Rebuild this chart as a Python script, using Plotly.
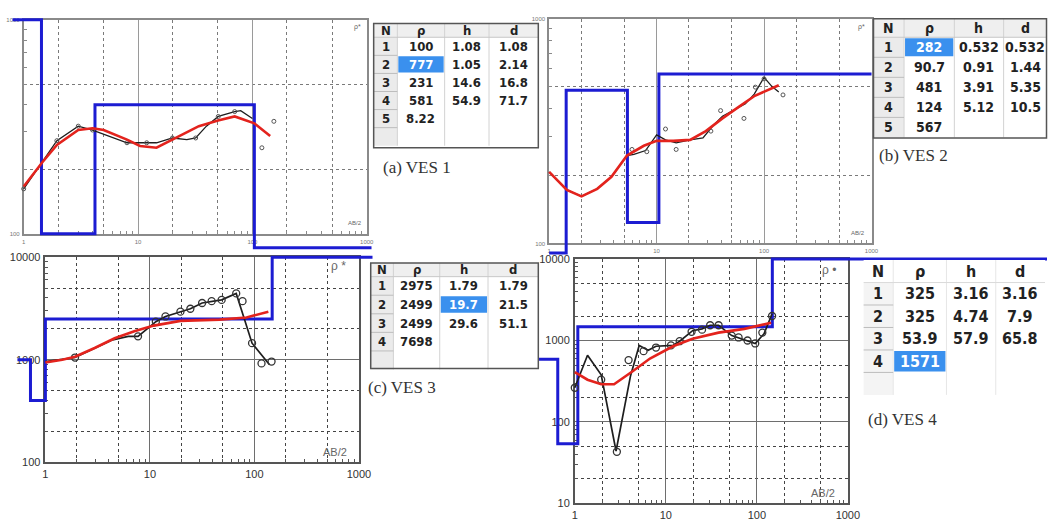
import plotly.graph_objects as go

W, H = 1059, 525

# ---------------- data ----------------
# VES 1
ves1_line_ab = [1, 1.95, 3.0, 4.0, 8.0, 11.9, 14.5, 20, 26.7, 31.9, 39.6, 50.3, 70, 79, 100]
ves1_line_rho = [162, 272, 318, 305, 266, 266, 266, 280, 275, 280, 318, 353, 372, 376, 345]
ves1_pts_ab = [1, 1.95, 3.0, 4.0, 8.0, 11.9, 20, 31.9, 50.3, 70, 121, 154]
ves1_pts_rho = [162, 272, 318, 305, 266, 266, 280, 280, 353, 372, 252, 335]
ves1_calc_ab = [1, 1.45, 1.95, 3.0, 4.0, 5.0, 8, 10.4, 14.5, 20, 34, 50, 70, 104, 143]
ves1_calc_rho = [166, 215, 260, 305, 311, 305, 275, 257, 252, 275, 318, 338, 353, 328, 286]
ves1_model_ab = [0.8, 1.43, 4.2, 104, 1100]
ves1_model_rho = [1000, 100, 400, 86, 86]

# VES 2
ves2_line_ab = [1, 1.46, 2.0, 2.8, 3.8, 5.3, 6.15, 7.9, 10, 12.1, 15.2, 20.5, 27, 33.3, 41, 67, 81, 100, 118, 137]
ves2_line_rho = [208, 173, 162, 175, 198, 246, 249, 259, 304, 289, 280, 289, 295, 333, 368, 418, 462, 548, 500, 472]
ves2_pts_ab = [5.9, 8.1, 12.1, 15.2, 32, 39.4, 65, 83, 100, 150]
ves2_pts_rho = [262, 256, 323, 262, 316, 390, 360, 496, 540, 458]
ves2_calc_ab = [1, 1.46, 2.0, 2.8, 3.8, 5.3, 7.6, 10, 14.3, 20.5, 28.7, 41, 58.6, 82, 137]
ves2_calc_rho = [208, 173, 162, 175, 198, 246, 272, 286, 286, 289, 316, 360, 406, 454, 506]
ves2_model_ab = [1.0, 1.44, 5.35, 10.5, 1000]
ves2_model_rho = [90.7, 481, 124, 567, 567]

# VES 3
ves3_line_ab = [1, 1.92, 4.3, 6.2, 7.7, 11.4, 14.1, 19.6, 24.4, 31.6, 39, 48.6, 67, 95, 139]
ves3_line_rho = [960, 1050, 1550, 1690, 1690, 2350, 2640, 2940, 3140, 3570, 3720, 3830, 4430, 1450, 900]
ves3_pts_ab = [1.92, 7.7, 11.4, 14.1, 19.6, 24.4, 31.6, 39, 48.6, 67, 77, 95, 117, 146]
ves3_pts_rho = [1050, 1690, 2350, 2640, 2940, 3140, 3570, 3720, 3830, 4430, 3720, 1450, 920, 960]
ves3_calc_ab = [1, 1.45, 1.92, 2.96, 4.6, 7.1, 10.9, 19.6, 46.5, 84, 136]
ves3_calc_rho = [940, 1000, 1070, 1300, 1620, 1890, 2150, 2390, 2460, 2580, 2940]
ves3_model_ab = [0.54, 0.72, 1.0, 148, 1350]
ves3_model_rho = [1000, 400, 2500, 10000, 10000]

# VES 4
ves4_line_ab = [1, 1.38, 1.95, 2.84, 4.1, 5.1, 6.4, 7.8, 12, 14.2, 19.7, 25, 30.7, 38, 53, 73, 96, 120, 147]
ves4_line_rho = [263, 660, 380, 44, 370, 870, 760, 850, 870, 980, 1320, 1390, 1540, 1540, 1150, 1030, 920, 1210, 2130]
ves4_pts_ab = [1, 1.95, 2.9, 3.9, 5.7, 7.8, 11.4, 14.2, 19.2, 25, 30.7, 38, 53, 63, 79, 96, 115, 147]
ves4_pts_rho = [263, 330, 43, 575, 740, 820, 870, 980, 1280, 1360, 1540, 1540, 1150, 1090, 1000, 920, 1250, 2000]
ves4_calc_ab = [1.0, 1.38, 1.95, 2.7, 4.4, 6.7, 12, 19.7, 38, 73, 144]
ves4_calc_rho = [410, 330, 290, 290, 425, 600, 850, 1050, 1250, 1390, 1650]
ves4_model_ab = [0.37, 0.65, 1.08, 148, 160000]
ves4_model_rho = [590, 54, 1480, 10000, 10000]

# tables
tab_header = ["N", "ρ", "h", "d"]
ves1_N = ["1", "2", "3", "4", "5", ""]
ves1_rho = ["100", "777", "231", "581", "8.22", ""]
ves1_h = ["1.08", "1.05", "14.6", "54.9", "", ""]
ves1_d = ["1.08", "2.14", "16.8", "71.7", "", ""]
ves2_N = ["1", "2", "3", "4", "5"]
ves2_rho = ["282", "90.7", "481", "124", "567"]
ves2_h = ["0.532", "0.91", "3.91", "5.12", ""]
ves2_d = ["0.532", "1.44", "5.35", "10.5", ""]
ves3_N = ["1", "2", "3", "4", ""]
ves3_rho = ["2975", "2499", "2499", "7698", ""]
ves3_h = ["1.79", "19.7", "29.6", "", ""]
ves3_d = ["1.79", "21.5", "51.1", "", ""]
ves4_N = ["1", "2", "3", "4", ""]
ves4_rho = ["325", "325", "53.9", "1571", ""]
ves4_h = ["3.16", "4.74", "57.9", "", ""]
ves4_d = ["3.16", "7.9", "65.8", "", ""]

captions = ["(a) VES 1", "(b) VES 2", "(c) VES 3", "(d) VES 4"]

# ---------------- styling / layout ----------------
BLUE = "#1c1cd2"
RED = "#e3231d"
BLACK = "#1e1e1e"
HL = "#3a90ee"

panels = [
    dict(x0=21, x1=369, y0=14, y1=233, yr=(2, 3), small=True,
         line=ves1_line_ab, liner=ves1_line_rho, pts=ves1_pts_ab, ptsr=ves1_pts_rho,
         calc=ves1_calc_ab, calcr=ves1_calc_rho, mod=ves1_model_ab, modr=ves1_model_rho,
         ab=(366, 222), rho=(365, 22), cap=(383, 165)),
    dict(x0=554, x1=881, y0=13, y1=243, yr=(2, 3), small=True,
         line=ves2_line_ab, liner=ves2_line_rho, pts=ves2_pts_ab, ptsr=ves2_pts_rho,
         calc=ves2_calc_ab, calcr=ves2_calc_rho, mod=ves2_model_ab, modr=ves2_model_rho,
         ab=(876, 232), rho=(876, 22), cap=(887, 153)),
    dict(x0=43, x1=361, y0=257, y1=467, yr=(2, 4), small=False,
         line=ves3_line_ab, liner=ves3_line_rho, pts=ves3_pts_ab, ptsr=ves3_pts_rho,
         calc=ves3_calc_ab, calcr=ves3_calc_rho, mod=ves3_model_ab, modr=ves3_model_rho,
         ab=(351, 456), rho=(350, 266), cap=(368, 390)),
    dict(x0=580, x1=857, y0=259, y1=509, yr=(1, 4), small=False,
         line=ves4_line_ab, liner=ves4_line_rho, pts=ves4_pts_ab, ptsr=ves4_pts_rho,
         calc=ves4_calc_ab, calcr=ves4_calc_rho, mod=ves4_model_ab, modr=ves4_model_rho,
         ab=(846, 498), rho=(847, 270), cap=(875, 423)),
]


def ax(n):
    return "xaxis" if n == 1 else f"xaxis{n}"


def ay(n):
    return "yaxis" if n == 1 else f"yaxis{n}"


def ref(n):
    return ("x", "y") if n == 1 else (f"x{n}", f"y{n}")


def PX(v):
    return v / W


def PY(v):
    return 1 - v / H


fig = go.Figure()
layout = {}
annotations = []
shapes = []

for i, p in enumerate(panels):
    nP, nT, nF = i + 1, i + 5, i + 9
    xr = (0, 3)
    yr = p["yr"]
    small = p["small"]
    dom_x = [PX(p["x0"]), PX(p["x1"])]
    dom_y = [PY(p["y1"]), PY(p["y0"])]
    gcol = "#9a9a9a" if small else "#6e6e6e"
    dcol = "#7a7a7a" if small else "#444444"
    fcol = "#8a8a8a" if small else "#555555"
    tf = dict(size=6 if small else 11, color="#777" if small else "#333",
              family="Liberation Sans, Arial, sans-serif")
    xdec = [10 ** e for e in range(0, 4)]
    xdot = [k * 10 ** e for e in range(0, 3) for k in (2, 5)]
    xsm = [k * 10 ** e for e in range(0, 3) for k in range(2, 10)]
    ydec = [10 ** e for e in range(yr[0], yr[1] + 1)]
    ydot = [k * 10 ** e for e in range(yr[0], yr[1]) for k in (2, 5)]
    ysm = [k * 10 ** e for e in range(yr[0], yr[1]) for k in range(2, 10)]

    # P axes: frame, grid, labels
    layout[ax(nP)] = dict(type="log", domain=dom_x, range=list(xr), anchor=ref(nP)[1],
                          tickvals=xdec, ticktext=[str(v) for v in xdec],
                          showgrid=True, gridcolor=gcol, gridwidth=1.2,
                          minor=dict(tickvals=xdot, showgrid=True, griddash="dot",
                                     gridcolor=dcol, gridwidth=1.3, ticks=""),
                          showline=True, linecolor=fcol, linewidth=1.6, mirror=True,
                          ticks="", tickfont=tf, zeroline=False, fixedrange=True,
                          ticklabelstandoff=1)
    layout[ay(nP)] = dict(type="log", domain=dom_y, range=list(yr), anchor=ref(nP)[0],
                          tickvals=ydec, ticktext=[str(v) for v in ydec],
                          showgrid=True, gridcolor=gcol, gridwidth=1.2,
                          minor=dict(tickvals=ydot, showgrid=True, griddash="dot",
                                     gridcolor=dcol, gridwidth=1.3, ticks=""),
                          showline=True, linecolor=fcol, linewidth=1.6, mirror=True,
                          ticks="", tickfont=tf, zeroline=False, fixedrange=True,
                          ticklabelstandoff=1)
    fig.add_trace(go.Scatter(x=[], y=[], xaxis=ref(nP)[0], yaxis=ref(nP)[1],
                             showlegend=False, hoverinfo="skip"))

    # T axes: small inside ticks
    layout[ax(nT)] = dict(type="log", range=list(xr), overlaying=ref(nP)[0],
                          anchor=ref(nT)[1], tickvals=xsm, ticks="inside", ticklen=3,
                          tickcolor=fcol, showticklabels=False, showgrid=False,
                          showline=False, zeroline=False, fixedrange=True)
    layout[ay(nT)] = dict(type="log", range=list(yr), overlaying=ref(nP)[1],
                          anchor=ref(nT)[0], tickvals=ysm, ticks="inside", ticklen=3,
                          tickcolor=fcol, showticklabels=False, showgrid=False,
                          showline=False, zeroline=False, fixedrange=True)
    fig.add_trace(go.Scatter(x=[], y=[], xaxis=ref(nT)[0], yaxis=ref(nT)[1],
                             showlegend=False, hoverinfo="skip"))

    # F axes: whole-figure axes sharing the panel scale (lets the model run outside)
    perx = (xr[1] - xr[0]) / (p["x1"] - p["x0"])
    pery = (yr[1] - yr[0]) / (p["y1"] - p["y0"])
    fxr = [xr[0] - p["x0"] * perx, xr[1] + (W - p["x1"]) * perx]
    fyr = [yr[0] - (H - p["y1"]) * pery, yr[1] + p["y0"] * pery]
    layout[ax(nF)] = dict(type="log", domain=[0, 1], range=fxr, anchor=ref(nF)[1],
                          visible=False, fixedrange=True)
    layout[ay(nF)] = dict(type="log", domain=[0, 1], range=fyr, anchor=ref(nF)[0],
                          visible=False, fixedrange=True)
    xa, ya = ref(nF)
    fig.add_trace(go.Scatter(x=p["mod"], y=p["modr"], mode="lines", line_shape="hv",
                             line=dict(color=BLUE, width=3), xaxis=xa, yaxis=ya,
                             showlegend=False, hoverinfo="skip"))
    fig.add_trace(go.Scatter(x=p["line"], y=p["liner"], mode="lines",
                             line=dict(color=BLACK, width=1.3 if small else 1.7),
                             xaxis=xa, yaxis=ya, showlegend=False, hoverinfo="skip"))
    fig.add_trace(go.Scatter(x=p["pts"], y=p["ptsr"], mode="markers",
                             marker=dict(symbol="circle-open", size=4 if small else 7,
                                         color="#555" if small else "#333",
                                         line=dict(width=1 if small else 1.3)),
                             xaxis=xa, yaxis=ya, showlegend=False, hoverinfo="skip"))
    fig.add_trace(go.Scatter(x=p["calc"], y=p["calcr"], mode="lines",
                             line=dict(color=RED, width=2.6), xaxis=xa, yaxis=ya,
                             showlegend=False, hoverinfo="skip"))

    fs = 6 if small else 11
    annotations.append(dict(text="AB/2", x=PX(p["ab"][0]), y=PY(p["ab"][1]),
                            xref="paper", yref="paper", xanchor="right", yanchor="middle",
                            showarrow=False, font=dict(size=fs, color="#666")))
    annotations.append(dict(text="ρ •" if i == 3 else ("ρ *" if i == 2 else "ρ*"),
                            x=PX(p["rho"][0]), y=PY(p["rho"][1]),
                            xref="paper", yref="paper", xanchor="right", yanchor="middle",
                            showarrow=False, font=dict(size=fs + 1, color="#666")))
    annotations.append(dict(text=captions[i], x=PX(p["cap"][0]), y=PY(p["cap"][1]),
                            xref="paper", yref="paper", xanchor="left", yanchor="middle",
                            showarrow=False,
                            font=dict(size=17, color="#333",
                                      family="Liberation Serif, Times New Roman, serif")))

# ---------------- tables (drawn as cells + text) ----------------
tables = [
    dict(cols=[ves1_N, ves1_rho, ves1_h, ves1_d], hl=(1, 1), x0=376, y0=18, y1=145,
         hh=14, ch=18.5, fs=13, widths=[24, 48, 45, 50], border=True),
    dict(cols=[ves2_N, ves2_rho, ves2_h, ves2_d], hl=(1, 0), x0=883, y0=13, y1=135,
         hh=19, ch=20.5, fs=14, widths=[31, 51, 50, 44], border=True),
    dict(cols=[ves3_N, ves3_rho, ves3_h, ves3_d], hl=(2, 1), x0=373, y0=263, y1=371,
         hh=14, ch=19, fs=13, widths=[23, 47, 49, 51], border=True),
    dict(cols=[ves4_N, ves4_rho, ves4_h, ves4_d], hl=(1, 3), x0=873, y0=260, y1=398,
         hh=23, ch=23, fs=16, widths=[30, 54, 50, 50], border=False),
]
TFONT = "Liberation Sans Narrow, DejaVu Sans Condensed, Arial Narrow, sans-serif"
for t in tables:
    n = len(t["cols"][0])
    xs = [t["x0"]]
    for w in t["widths"]:
        xs.append(xs[-1] + w)
    x1 = min(xs[-1], 1058.5)
    ys = [t["y0"], t["y0"] + t["hh"]]
    for r in range(n):
        ys.append(ys[-1] + t["ch"])

    def rect(a, b, c, d, **kw):
        shapes.append(dict(type="rect", xref="paper", yref="paper", x0=PX(a), x1=PX(b),
                           y0=PY(d), y1=PY(c), layer="above", **kw))

    def line(a, b, c, d, col, w=1):
        shapes.append(dict(type="line", xref="paper", yref="paper", x0=PX(a), x1=PX(b),
                           y0=PY(c), y1=PY(d), line=dict(color=col, width=w),
                           layer="above"))

    rect(t["x0"], x1, t["y0"], t["y1"], fillcolor="white", line=dict(width=0))
    if t["border"]:
        rect(t["x0"], x1, ys[0], ys[1], fillcolor="#efefef", line=dict(width=0))
        rect(xs[0], xs[1], ys[1], ys[-1], fillcolor="#ebebeb", line=dict(width=0))
    else:
        rect(xs[0], xs[1], ys[1], ys[-1], fillcolor="#f4f4f4", line=dict(width=0))
    c, r = t["hl"]
    rect(xs[c] + 1, xs[c + 1] - 1, ys[r + 1] + 1, ys[r + 2] - 1, fillcolor=HL,
         line=dict(width=0))
    sep = "#d2d2d2" if t["border"] else "#e6e6e6"
    for xv in xs[1:-1]:
        line(xv, xv, t["y0"], ys[-1], sep)
    line(t["x0"], x1, ys[1], ys[1], "#c8c8c8" if t["border"] else "#dadada")
    for yv in ys[2:-1]:
        line(xs[0], xs[1], yv, yv, "#bdbdbd")
    if t["border"]:
        rect(t["x0"], x1, t["y0"], t["y1"], line=dict(color="#555", width=1.5))
    for k in range(4):
        cx = (xs[k] + xs[k + 1]) / 2
        annotations.append(dict(text=f"<b>{tab_header[k]}</b>", x=PX(cx),
                                y=PY((ys[0] + ys[1]) / 2), xref="paper", yref="paper",
                                xanchor="center", yanchor="middle", showarrow=False,
                                font=dict(size=t["fs"], color="#222", family=TFONT)))
        for rr, v in enumerate(t["cols"][k]):
            if not v:
                continue
            annotations.append(dict(text=f"<b>{v}</b>", x=PX(cx),
                                    y=PY((ys[rr + 1] + ys[rr + 2]) / 2),
                                    xref="paper", yref="paper", xanchor="center",
                                    yanchor="middle", showarrow=False,
                                    font=dict(size=t["fs"],
                                              color="white" if (k, rr) == t["hl"] else "#222",
                                              family=TFONT)))

fig.update_layout(
    width=W, height=H, autosize=False, margin=dict(l=0, r=0, t=0, b=0),
    paper_bgcolor="white", plot_bgcolor="rgba(0,0,0,0)",
    showlegend=False, annotations=annotations, shapes=shapes,
    font=dict(family="Liberation Sans, Arial, sans-serif"),
    **layout,
)
fig.write_html(
    "out.html",
    config={"responsive": False, "displayModeBar": False},
    post_script=("document.documentElement.style.margin='0';"
                 "document.documentElement.style.overflow='hidden';"
                 "document.body.style.margin='0';"
                 "document.body.style.overflow='hidden';"),
)
